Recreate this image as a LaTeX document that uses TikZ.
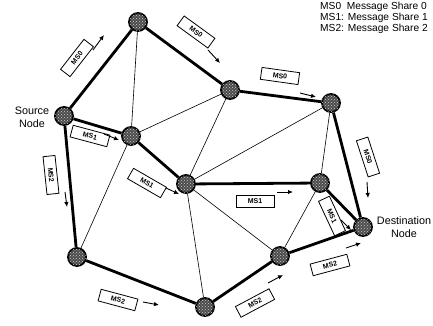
\documentclass[tikz,border=0pt]{standalone}
\usepackage{fontspec}
\setmainfont{Liberation Sans}
\usetikzlibrary{arrows.meta,patterns}
\begin{document}
\begin{tikzpicture}[x=1pt,y=-1pt,
  router/.style={circle,draw=black,line width=1.8pt,fill=black!70,minimum size=18pt,inner sep=0pt,
    postaction={pattern=crosshatch dots,pattern color=white!80!black}},
  thick edge/.style={line width=2.8pt},
  thin edge/.style={line width=0.6pt},
  share/.style={draw=black,fill=white,line width=0.8pt,minimum width=38pt,minimum height=12pt,inner sep=0pt,font=\fontsize{7}{8}\selectfont\bfseries},
  flow/.style={line width=0.9pt,-{Latex[length=5pt,width=4.5pt]}},
  lbl/.style={align=center,font=\fontsize{10.8}{13}\selectfont}
]
\useasboundingbox (0,0) rectangle (433,326);
% routers
\node[router] (S) at (64,116) {};
\node[router] (A) at (138,22) {};
\node[router] (B) at (131,136) {};
\node[router] (C) at (186,184) {};
\node[router] (D) at (230,90) {};
\node[router] (E) at (331,103) {};
\node[router] (F) at (320,183) {};
\node[router] (T) at (363,227) {};
\node[router] (G) at (280,256) {};
\node[router] (H) at (205,307) {};
\node[router] (I) at (77,257) {};
% thin links
\draw[thin edge] (A) -- (B);
\draw[thin edge] (B) -- (D);
\draw[thin edge] (D) -- (C);
\draw[thin edge] (C) -- (E);
\draw[thin edge] (E) -- (F);
\draw[thin edge] (B) -- (I);
\draw[thin edge] (C) -- (H);
\draw[thin edge] (C) -- (G);
\draw[thin edge] (F) -- (G);
% thick paths
\draw[thick edge] (S) -- (A);
\draw[thick edge] (A) -- (D);
\draw[thick edge] (D) -- (E);
\draw[thick edge] (E) -- (T);
\draw[thick edge] (S) -- (B);
\draw[thick edge] (B) -- (C);
\draw[thick edge] (C) -- (F);
\draw[thick edge] (F) -- (T);
\draw[thick edge] (S) -- (I);
\draw[thick edge] (I) -- (H);
\draw[thick edge] (H) -- (G);
\draw[thick edge] (G) -- (T);
% share labels
\node[share,rotate=52] (l1) at (77,58) {MS0};
\node[share,rotate=-36] (l2) at (196,32) {MS0};
\node[share,rotate=-8] (l3) at (280,76) {MS0};
\node[share,rotate=-72] (l4) at (368,157) {MS0};
\node[share,rotate=-15] (l5) at (90,136) {MS1};
\node[share,rotate=-30] (l6) at (147,183) {MS1};
\node[share] (l7) at (255,201) {MS1};
\node[share,rotate=-65] (l8) at (332,216) {MS1};
\node[share,rotate=-84] (l9) at (51,175) {MS2};
\node[share,rotate=-15] (l10) at (118,300) {MS2};
\node[share,rotate=28] (l11) at (255,303) {MS2};
\node[share,rotate=15] (l12) at (330,265) {MS2};
% arrows
\coordinate (a1s) at (93,50);   \coordinate (a1e) at (104,35);
\coordinate (a2s) at (208,50);  \coordinate (a2e) at (220,63);
\coordinate (a3s) at (300,93);  \coordinate (a3e) at (316,97);
\coordinate (a4s) at (367,182); \coordinate (a4e) at (368,198);
\coordinate (a5s) at (104,134); \coordinate (a5e) at (119,140);
\coordinate (a6s) at (166,188); \coordinate (a6e) at (179,194);
\coordinate (a7s) at (277,192); \coordinate (a7e) at (293,192);
\coordinate (a8s) at (341,220); \coordinate (a8e) at (351,230);
\coordinate (a9s) at (65,192);  \coordinate (a9e) at (67,207);
\coordinate (a10s) at (143,302); \coordinate (a10e) at (159,305);
\coordinate (a11s) at (268,283); \coordinate (a11e) at (283,275);
\coordinate (a12s) at (346,248); \coordinate (a12e) at (361,243);
\foreach \k in {1,...,12} \draw[flow] (a\k s) -- (a\k e);
% texts
\node[lbl] (src) at (32,117) {Source\\Node};
\node[lbl] (dst) at (404,227) {Destination\\Node};
\node[anchor=north west,align=left,font=\fontsize{10.2}{11}\selectfont,inner sep=0pt] (legend) at (320,2)
  {MS0\phantom{:} Message Share 0\\MS1: Message Share 1\\MS2: Message Share 2};
\end{tikzpicture}
\end{document}
